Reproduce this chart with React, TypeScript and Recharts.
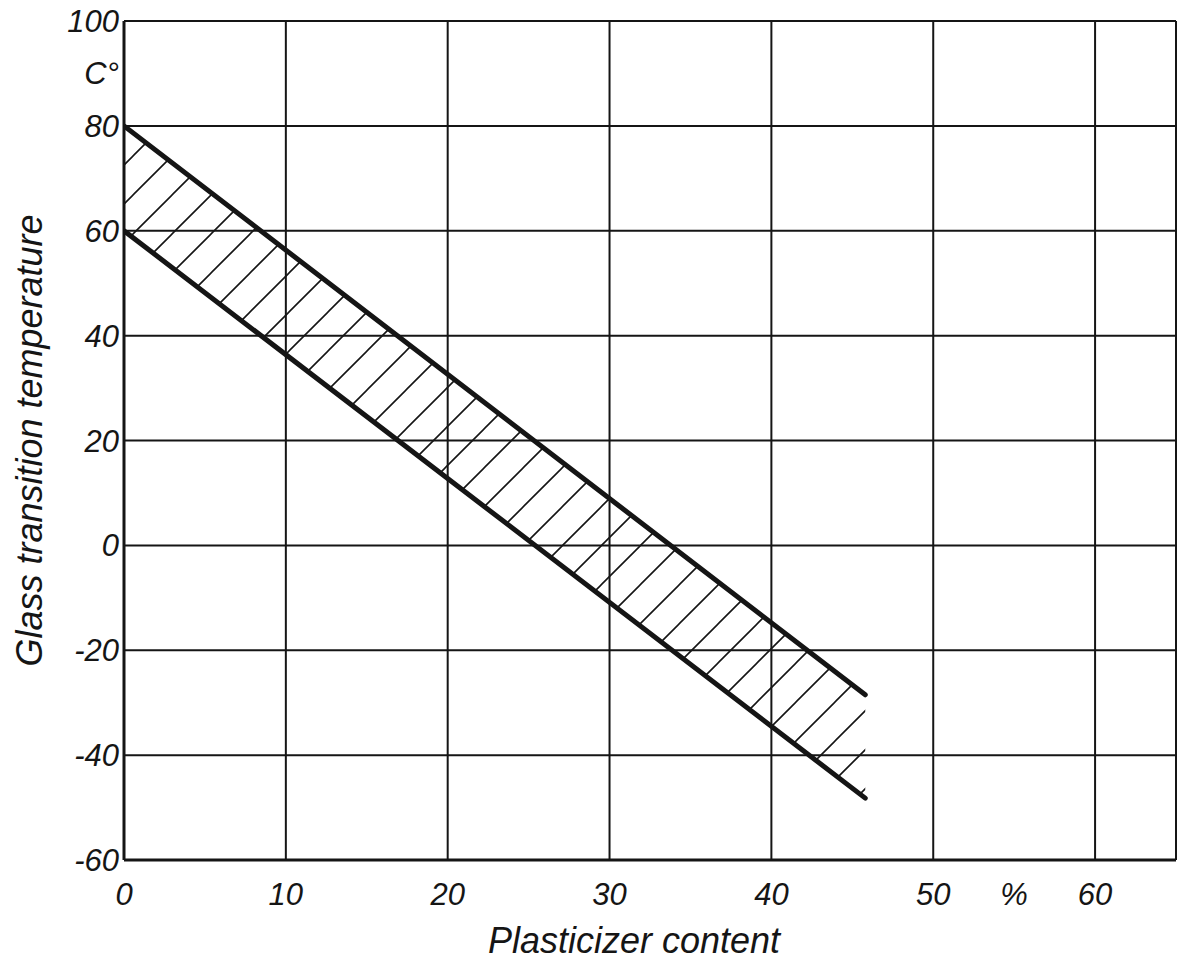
import React from 'react';
import { ComposedChart, Line, Area, XAxis, YAxis, CartesianGrid, ReferenceLine, ReferenceDot } from 'recharts';

// Plasticizer content (%) at the start and end of the band
const plasticizer = [0, 45.8];
// Upper and lower boundary of the glass transition temperature band (°C)
const tgUpper = [80, -28.5];
const tgLower = [60, -48.2];

const xTicks = [0, 10, 20, 30, 40, 50, 60];
const yTicks = [-60, -40, -20, 0, 20, 40, 60, 80, 100];

const data = plasticizer.map((x, i) => ({
  x,
  upper: tgUpper[i],
  lower: tgLower[i],
  band: [tgLower[i], tgUpper[i]],
}));

const FONT = "'Liberation Sans', Arial, sans-serif";
const INK = '#151515';
const tickStyle = { fill: INK, fontSize: 31, fontStyle: 'italic', fontFamily: FONT };
const titleStyle = { fill: INK, fontSize: 36, fontStyle: 'italic', fontFamily: FONT };

export default function App() {
  return (
    <div style={{ position: 'absolute', left: 0, top: 0, width: 1181, height: 977, background: '#fff' }}>
      <ComposedChart
        width={1181}
        height={977}
        data={data}
        margin={{ top: 21, right: 5, bottom: 0, left: 0 }}
      >
        <defs>
          <pattern
            id="hatch"
            patternUnits="userSpaceOnUse"
            width={39}
            height={39}
            patternTransform="translate(16,0)"
          >
            <path d="M0,39 L39,0 M-5,5 L5,-5 M34,44 L44,34" stroke={INK} strokeWidth={1.6} />
          </pattern>
        </defs>
        <CartesianGrid stroke={INK} strokeWidth={2} strokeOpacity={1} />
        <XAxis
          dataKey="x"
          type="number"
          domain={[0, 65]}
          ticks={xTicks}
          allowDataOverflow
          height={117}
          tickSize={0}
          tickMargin={23}
          tickLine={false}
          axisLine={{ stroke: INK, strokeWidth: 3 }}
          tick={tickStyle}
          label={{
            value: 'Plasticizer content',
            position: 'insideBottom',
            offset: 24,
            dx: -16,
            style: titleStyle,
          }}
        />
        <YAxis
          type="number"
          domain={[-60, 100]}
          ticks={yTicks}
          allowDataOverflow
          width={124}
          tickSize={0}
          tickMargin={5}
          tickLine={false}
          axisLine={{ stroke: INK, strokeWidth: 3 }}
          tick={tickStyle}
          label={{
            value: 'Glass transition temperature',
            angle: -90,
            position: 'insideLeft',
            offset: 29,
            style: { ...titleStyle, textAnchor: 'middle' },
          }}
        />
        <ReferenceLine x={65} stroke={INK} strokeWidth={2} ifOverflow="visible" />
        <Area
          dataKey="band"
          type="linear"
          fill="url(#hatch)"
          fillOpacity={1}
          stroke="none"
          isAnimationActive={false}
        />
        <Line dataKey="upper" type="linear" stroke={INK} strokeWidth={5} dot={false} strokeLinecap="round" isAnimationActive={false} />
        <Line dataKey="lower" type="linear" stroke={INK} strokeWidth={5} dot={false} strokeLinecap="round" isAnimationActive={false} />
        <ReferenceDot
          x={55}
          y={-60}
          r={0}
          ifOverflow="visible"
          label={{ value: '%', position: 'bottom', offset: 23, style: tickStyle }}
        />
        <ReferenceDot
          x={0}
          y={90}
          r={0}
          ifOverflow="visible"
          label={{ value: 'C°', position: 'left', offset: 5, style: tickStyle }}
        />
      </ComposedChart>
    </div>
  );
}
